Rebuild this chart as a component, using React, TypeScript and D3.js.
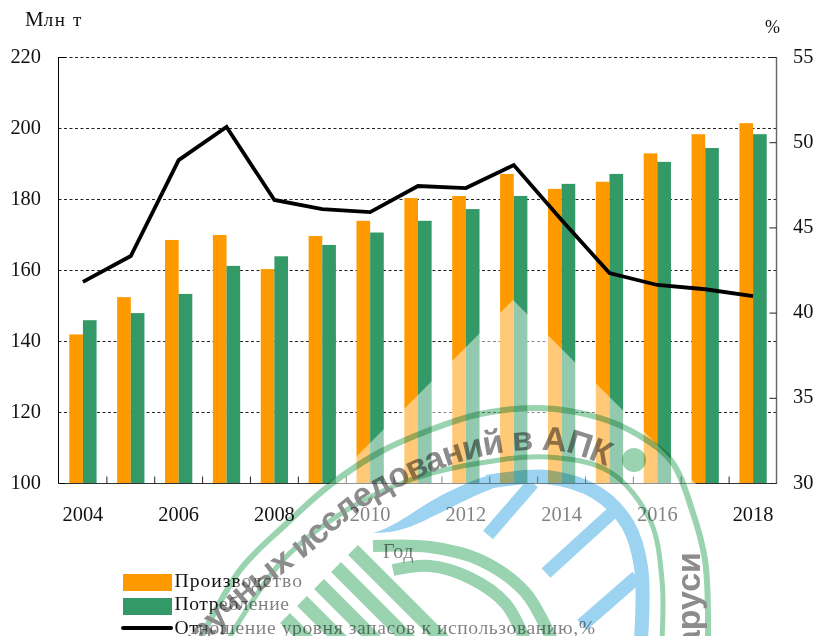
import React from "react";
import * as d3 from "d3";

const years = [2004,2005,2006,2007,2008,2009,2010,2011,2012,2013,2014,2015,2016,2017,2018];
const production = [142,152.5,168.6,170,160.4,169.7,174,180.4,181,187.2,183,185,193,198.4,201.5];
const consumption = [146,148,153.4,161.3,164,167.2,170.7,174,177.3,181,184.4,187.2,190.6,194.5,198.4];
const stockRatio = [41.83,43.35,48.98,50.92,46.64,46.1,45.93,47.46,47.34,48.69,45.46,42.35,41.65,41.4,41.0];
const leftTicks = [100,120,140,160,180,200,220];
const rightTicks = [30,35,40,45,50,55];
const xLabels = [2004,2006,2008,2010,2012,2014,2016,2018];
const legendLabels = ["Производство","Потребление","Отношение уровня запасов к использованию,%"];

const ORANGE = "#ff9900";
const GREEN = "#339966";
const SERIF = "'Liberation Serif', serif";
const SEAL_GREEN = "#9ad3b0";
const SEAL_BLUE = "#9bd3f1";

type P = [number, number];
const outerRing: P[] = [[200,640],[240,570],[285,525],[330,485],[380,452],[430,430],[480,414],[540,408],[600,418],[640,436],[672,462],[692,510],[705,560],[708,640]];
const innerRing: P[] = [[228,640],[283,560],[350,508],[410,480],[463,466],[547,457],[610,472],[650,520],[662,580],[662,640]];
const blueRing: P[] = [[487,482],[547,477],[597,493],[628,525],[641,567],[641,640]];
const arcA: P[] = [[373,546],[430,547],[480,560],[525,592],[552,640]];
const arcB: P[] = [[393,570],[430,566],[470,578],[505,603],[525,640]];
const spokes: [P, P, number][] = [[[488,535],[533,483],13],[[546,573],[613,512],13],[[582,625],[637,577],14]];
const stripes: P[] = [[353,550],[336,567],[319,584],[302,601],[285,618]];
const textBase: P[] = [[150,715],[195,655],[250,600],[310,553],[360,510],[410,482],[460,462],[508,452],[537,450],[570,453],[606,466]];

export default function App() {
  const x = d3.scaleBand<number>().domain(years).range([59, 777]).paddingInner(0.43).paddingOuter(0.215);
  const y = d3.scaleLinear().domain([100, 220]).range([483.5, 57.5]);
  const y2 = d3.scaleLinear().domain([30, 55]).range([483.5, 57.5]);
  const half = x.bandwidth() / 2;
  const cx = (yr: number) => (x(yr) as number) + half;
  const line = d3.line<number>().x((_, i) => cx(years[i])).y((d) => y2(d));
  const curve = d3.line<P>().curve(d3.curveCatmullRom.alpha(0.5));
  const left = 58.5, right = 776.5, bottom = 483.5;
  const step = x.step();

  return (
    <svg width={817} height={636} style={{ position: "absolute", left: 0, top: 0, display: "block", background: "#fff" }} fontFamily={SERIF}>
      {leftTicks.filter((t) => t > 100).map((t) => (
        <line key={t} x1={left} x2={right} y1={y(t)} y2={y(t)} stroke="#222" strokeDasharray="3 2.5" />
      ))}
      {years.map((yr, i) => (
        <g key={yr}>
          <rect x={cx(yr) - half} y={y(production[i])} width={half} height={bottom - y(production[i])} fill={ORANGE} />
          <rect x={cx(yr)} y={y(consumption[i])} width={half} height={bottom - y(consumption[i])} fill={GREEN} />
        </g>
      ))}
      <line x1={left} x2={left} y1={57} y2={bottom} stroke="#000" />
      <line x1={right} x2={right} y1={57} y2={bottom + 0.5} stroke="#666" strokeWidth={1.4} />
      <line x1={left} x2={right} y1={bottom} y2={bottom} stroke="#333" strokeWidth={1.2} />
      <line x1={left} x2={65} y1={bottom} y2={bottom} stroke="#000" />
      <line x1={left} x2={66} y1={57.5} y2={57.5} stroke="#000" />
      {rightTicks.map((t) => (
        <line key={t} x1={right - 7} x2={right} y1={y2(t)} y2={y2(t)} stroke="#222" />
      ))}
      {years.slice(1).map((yr) => (
        <line key={yr} x1={cx(yr) - step / 2} x2={cx(yr) - step / 2} y1={bottom} y2={bottom - 7} stroke="#222" />
      ))}
      <path d={line(stockRatio) ?? ""} fill="none" stroke="#000" strokeWidth={3.8} strokeLinejoin="miter" />

      <g fontSize={20.4} fill="#111">
        {leftTicks.map((t) => (
          <text key={t} x={41} y={y(t) + 5} textAnchor="end">{t}</text>
        ))}
        {rightTicks.map((t) => (
          <text key={t} x={793} y={y2(t) + 5}>{t}</text>
        ))}
        {xLabels.map((t) => (
          <text key={t} x={cx(t)} y={521} textAnchor="middle">{t}</text>
        ))}
        <text x={25} y={26} fontSize={21}>М<tspan fontSize={19} letterSpacing={1.6}>лн т</tspan></text>
        <text x={765} y={33} fontSize={18}>%</text>
        <text x={383} y={558} fontSize={20} letterSpacing={0.5}>Год</text>
      </g>

      <rect x={123} y={574} width={49} height={17} fill={ORANGE} />
      <rect x={123} y={598} width={49} height={17} fill={GREEN} />
      <line x1={123} x2={171} y1={628} y2={628} stroke="#000" strokeWidth={4} strokeLinecap="round" />
      <g fontSize={19.6} fill="#111">
        {legendLabels.map((l, i) => (
          <text key={l} x={174.5} y={587 + i * 23.4} letterSpacing={i === 0 ? 1 : 0.58}>{l}</text>
        ))}
      </g>

      {/* watermark */}
      <polygon points="513,300 725,513 725,636 190,636 330,483" fill="#fff" opacity={0.47} />
      <g fill="none" style={{ mixBlendMode: "multiply" }}>
        <path d={curve(outerRing) ?? ""} stroke={SEAL_GREEN} strokeWidth={6} />
        <path d={curve(innerRing) ?? ""} stroke={SEAL_GREEN} strokeWidth={5} />
        <path d={curve(arcA) ?? ""} stroke={SEAL_GREEN} strokeWidth={12} />
        <path d={curve(arcB) ?? ""} stroke={SEAL_GREEN} strokeWidth={12} />
        {stripes.map((s, i) => (
          <line key={i} x1={s[0]} y1={s[1]} x2={s[0] + 110} y2={s[1] + 110} stroke={SEAL_GREEN} strokeWidth={14} />
        ))}
        <path d={curve(blueRing) ?? ""} stroke={SEAL_BLUE} strokeWidth={14} />
        <path d="M373,533 C400,525 420,505 450,491 C465,484 478,478 490,475 L492,489 C470,497 455,506 440,513 C420,522 405,533 373,533 Z" fill={SEAL_BLUE} />
        {spokes.map((s, i) => (
          <line key={i} x1={s[0][0]} y1={s[0][1]} x2={s[1][0]} y2={s[1][1]} stroke={SEAL_BLUE} strokeWidth={s[2]} />
        ))}
        <circle cx={634} cy={460} r={12} fill={SEAL_GREEN} />
        <path id="sealBase" d={curve(textBase) ?? ""} stroke="none" />
        <text fontFamily="'Liberation Sans', sans-serif" fontWeight={700} fontSize={34} fill="#8c8c8c" stroke="none" letterSpacing={-0.8}>
          <textPath href="#sealBase" startOffset="100%" textAnchor="end">научных исследований в АПК</textPath>
        </text>
        <text transform="translate(700,552) rotate(-90)" textAnchor="end" fontFamily="'Liberation Sans', sans-serif" fontWeight={700} fontSize={34} fill="#8c8c8c" stroke="none">аруси</text>
      </g>
    </svg>
  );
}
